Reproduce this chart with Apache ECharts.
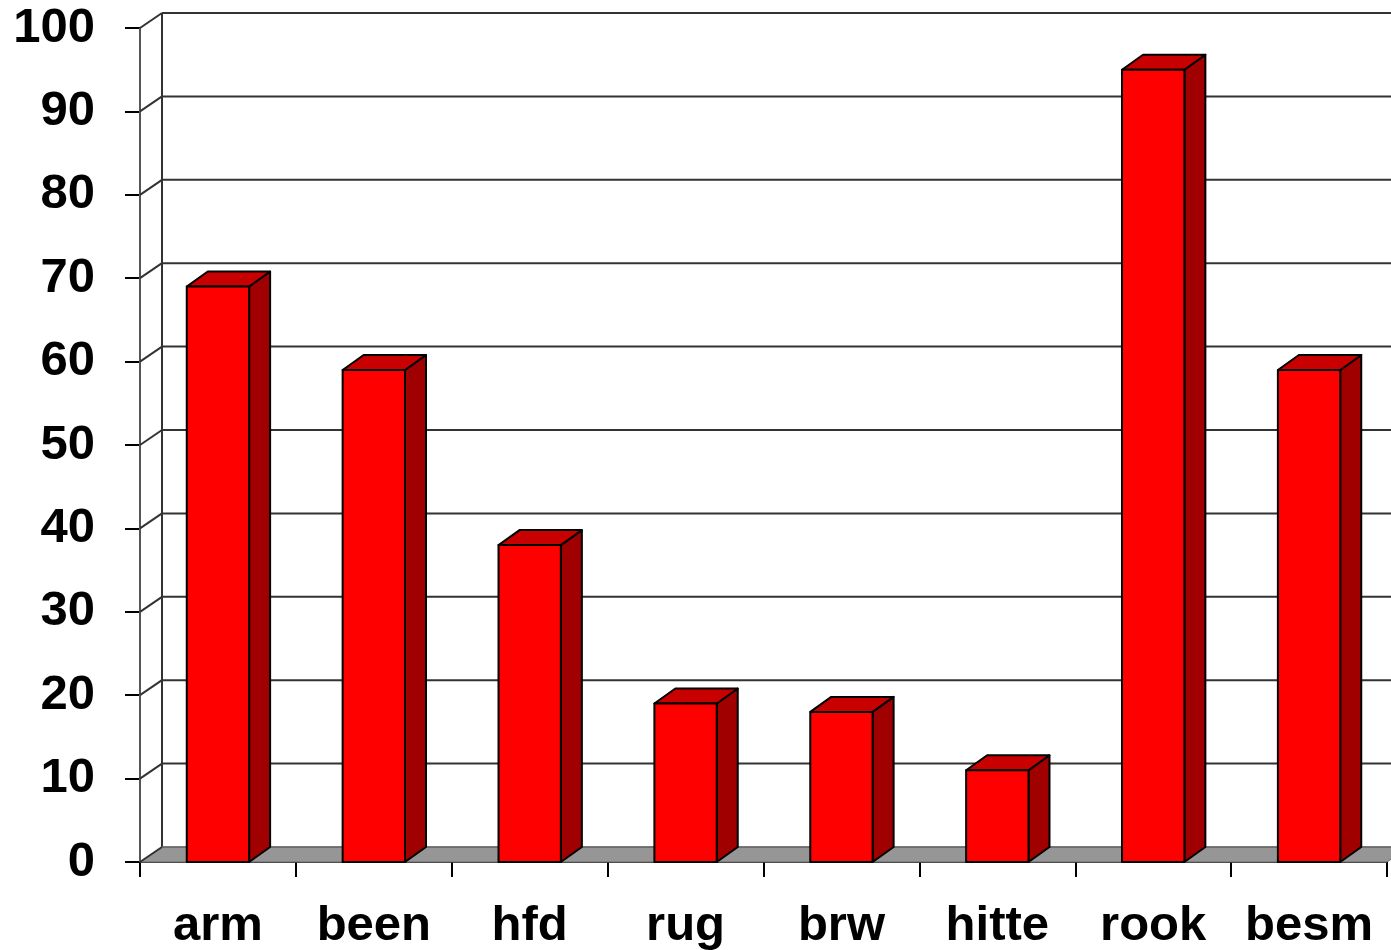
<!DOCTYPE html>
<html>
<head>
<meta charset="utf-8">
<script src="https://cdn.jsdelivr.net/npm/echarts@6/dist/echarts.min.js"></script>
<style>html,body{margin:0;padding:0;background:#fff;}#c{width:1391px;height:950px;}</style>
</head>
<body>
<div id="c"></div>
<script>
const categories = ['arm', 'been', 'hfd', 'rug', 'brw', 'hitte', 'rook', 'besm'];
const values = [69, 59, 38, 19, 18, 11, 95, 59];
const yTicks = [0, 10, 20, 30, 40, 50, 60, 70, 80, 90, 100];

const WALL_DX = 22, WALL_DY = -15;
const BAR_DX = 21, BAR_DY = -15;
const FONT = '"Liberation Sans", Arial, sans-serif';

const chart = echarts.init(document.getElementById('c'));

function renderWall(params, api) {
  const cs = params.coordSys;
  const v = api.value(1);
  const p = api.coord([0, v]);
  const y = p[1];
  const left = cs.x;
  const right = cs.x + cs.width + WALL_DX + 10;
  const children = [];
  if (params.dataIndex === 0) {
    const yTop = api.coord([0, yTicks[yTicks.length - 1]])[1];
    children.push({
      type: 'polygon',
      shape: { points: [[left, y], [cs.x + cs.width, y], [cs.x + cs.width + WALL_DX, y + WALL_DY], [left + WALL_DX, y + WALL_DY]] },
      style: { fill: '#969696', stroke: '#6a6a6a', lineWidth: 1 },
      z2: 0
    });
    children.push({
      type: 'line',
      shape: { x1: left + WALL_DX, y1: yTop + WALL_DY, x2: left + WALL_DX, y2: y + WALL_DY },
      style: { stroke: '#333', lineWidth: 2 },
      z2: 1
    });
    children.push({
      type: 'line',
      shape: { x1: left, y1: yTop, x2: left, y2: y },
      style: { stroke: '#555', lineWidth: 2 },
      z2: 1
    });
  }
  children.push({
    type: 'line',
    shape: { x1: left, y1: y, x2: left + WALL_DX, y2: y + WALL_DY },
    style: { stroke: '#333', lineWidth: 2 },
    z2: 1
  });
  children.push({
    type: 'line',
    shape: { x1: left + WALL_DX, y1: y + WALL_DY, x2: right, y2: y + WALL_DY },
    style: { stroke: params.dataIndex === 0 ? '#666' : '#333', lineWidth: params.dataIndex === 0 ? 1.5 : 2 },
    z2: 1
  });
  return { type: 'group', children: children };
}

function renderBar(params, api) {
  const i = api.value(0), v = api.value(1);
  const base = api.coord([i, 0]);
  const top = api.coord([i, v]);
  const w = api.size([1, 0])[0] * 0.4;
  const x0 = base[0] - w / 2, x1 = base[0] + w / 2;
  const yb = base[1], yt = top[1];
  const stroke = { stroke: '#000', lineWidth: 2, lineJoin: 'round' };
  return {
    type: 'group',
    children: [
      { type: 'polygon', shape: { points: [[x1, yb], [x1, yt], [x1 + BAR_DX, yt + BAR_DY], [x1 + BAR_DX, yb + BAR_DY]] },
        style: Object.assign({ fill: '#A00000' }, stroke) },
      { type: 'polygon', shape: { points: [[x0, yt], [x1, yt], [x1 + BAR_DX, yt + BAR_DY], [x0 + BAR_DX, yt + BAR_DY]] },
        style: Object.assign({ fill: '#C80000' }, stroke) },
      { type: 'rect', shape: { x: x0, y: yt, width: w, height: yb - yt },
        style: Object.assign({ fill: '#FF0000' }, stroke) }
    ]
  };
}

chart.setOption({
  animation: false,
  backgroundColor: '#fff',
  grid: { left: 140, right: 4, top: 28, bottom: 88, containLabel: false, outerBoundsMode: 'none' },
  xAxis: {
    type: 'category',
    data: categories,
    boundaryGap: true,
    axisLine: { show: true, lineStyle: { color: '#333', width: 2 } },
    axisTick: { show: true, alignWithLabel: false, length: 15, lineStyle: { color: '#000', width: 2 } },
    axisLabel: { color: '#000', fontSize: 49, fontWeight: 'bold', fontFamily: FONT, margin: 40, interval: 0 },
    splitLine: { show: false }
  },
  yAxis: {
    type: 'value',
    min: 0, max: 100, interval: 10,
    axisLine: { show: false },
    axisTick: { show: true, length: 15, lineStyle: { color: '#000', width: 2 } },
    axisLabel: { color: '#000', fontSize: 49, fontWeight: 'bold', fontFamily: FONT, margin: 45 },
    splitLine: { show: false }
  },
  series: [
    {
      type: 'custom',
      z: 1,
      silent: true,
      renderItem: renderWall,
      data: yTicks.map(function (t) { return [0, t]; })
    },
    {
      type: 'custom',
      z: 3,
      renderItem: renderBar,
      data: values.map(function (v, i) { return [i, v]; })
    }
  ]
});
</script>
</body>
</html>
